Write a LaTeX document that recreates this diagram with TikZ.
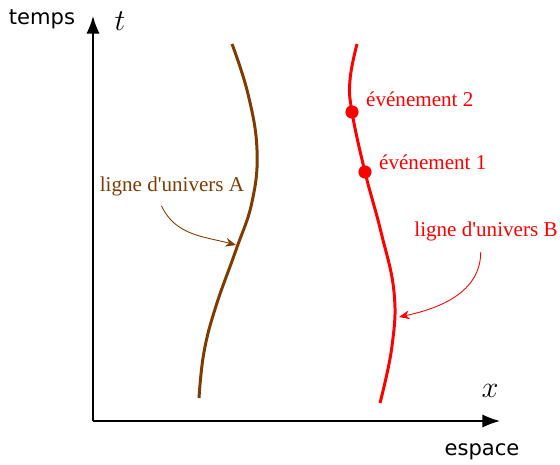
\documentclass[tikz,border=0pt]{standalone}
\usepackage{amsmath,amssymb}
\usepackage{fontspec}
\newfontfamily\axisfont{DejaVu Sans}
\newfontfamily\labelfont{Liberation Serif}
\usepackage{tikz}
\usetikzlibrary{positioning,arrows.meta}
\definecolor{brunA}{RGB}{128,60,0}

\begin{document}
\begin{tikzpicture}[x=0.02cm,y=0.02cm,
  axe/.style={line width=0.9pt,-{Latex[length=10pt,width=7.5pt]}},
  ligne/.style={line width=1.7pt},
  renvoi/.style={line width=0.5pt,-{Stealth[length=6pt,width=5pt]}},
  evt/.style={circle,fill=red,inner sep=0pt,minimum size=7.5pt},
  etiq/.style={font=\labelfont\fontsize{12}{14}\selectfont},
  var/.style={font=\fontsize{19}{22}\selectfont}]
  \useasboundingbox (0,0) rectangle (560,464);
  \coordinate (O) at (93,43);
  \coordinate (tmax) at (93,448);
  \coordinate (xmax) at (500,43);
  \draw[axe] (O) -- (tmax);
  \draw[axe] (O) -- (xmax);
  \node[font=\axisfont\fontsize{12}{14}\selectfont] (temps) at (42,445) {temps};
  \node[var] (t) at (120,443) {$t$};
  \node[var] (x) at (490,73) {$x$};
  \node[font=\axisfont\fontsize{12}{14}\selectfont] (espace) at (482,12) {espace};
  \draw[ligne,brunA] plot [smooth,tension=0.7] coordinates {(232,420) (248,370) (257,314) (252,262) (236,214) (216,158) (204,112) (199,66)};
  \draw[ligne,red] plot [smooth,tension=0.7] coordinates {(357,420) (350,384) (352,352) (365,292) (381,232) (394,172) (392,118) (380,61)};
  \node[evt] (e2) at (352,352) {};
  \node[evt] (e1) at (365,292) {};
  \node[etiq,red,anchor=west] (ev2) at (360,365) {événement 2};
  \node[etiq,red,anchor=west] (ev1) at (373,302) {événement 1};
  \node[etiq,brunA] (univA) at (172,278) {ligne d'univers A};
  \node[etiq,red] (univB) at (486,233) {ligne d'univers B};
  \coordinate (pA) at (236,219);
  \coordinate (pB) at (399,147);
  \draw[renvoi,brunA] ([xshift=-6]univA.south) ++(0,-4) to[out=-65,in=165] (pA);
  \draw[renvoi,red] ([xshift=-3]univB.south) ++(0,-5) to[out=-90,in=12] (pB);
\end{tikzpicture}
\end{document}
